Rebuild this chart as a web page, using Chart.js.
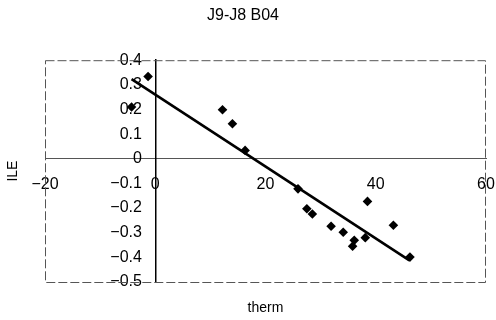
<!DOCTYPE html>
<html>
<head>
<meta charset="utf-8">
<script src="https://cdn.jsdelivr.net/npm/chart.js@4/dist/chart.umd.min.js"></script>
<style>
  html, body { margin: 0; padding: 0; background: #fff; }
  #wrap { width: 496px; height: 320px; }
</style>
</head>
<body>
<div id="wrap"><canvas id="c" width="496" height="320"></canvas></div>
<script>
// ---- data ----
const thermValues = [-4.3, -1.3, 12.2, 14.0, 16.3, 25.9, 27.5, 28.5, 31.9, 34.1, 36.1, 35.8, 38.1, 38.5, 43.2, 46.2];
const ileValues   = [0.21, 0.334, 0.199, 0.142, 0.034, -0.122, -0.203, -0.224, -0.274, -0.298, -0.331, -0.355, -0.32, -0.173, -0.27, -0.399];
const trendTherm  = [-4.3, 46.1];
const trendIle    = [0.323, -0.412];
const xTickValues = [-20, 0, 20, 40, 60];
const xTickLabels = ['\u221220', '0', '20', '40', '60'];
const yTickValues = [-0.5, -0.4, -0.3, -0.2, -0.1, 0, 0.1, 0.2, 0.3, 0.4];
const yTickLabels = ['\u22120.5', '\u22120.4', '\u22120.3', '\u22120.2', '\u22120.1', '0', '0.1', '0.2', '0.3', '0.4'];
const chartTitle = 'J9-J8 B04';
const xTitle = 'therm';
const yTitle = 'ILE';

const points = thermValues.map((x, i) => ({x: x, y: ileValues[i]}));
const trend = trendTherm.map((x, i) => ({x: x, y: trendIle[i]}));

Chart.defaults.font.family = '"Liberation Sans", Arial, sans-serif';
Chart.defaults.color = '#000';

const framePlugin = {
  id: 'frame',
  beforeDatasetsDraw(chart) {
    const a = chart.chartArea, ctx = chart.ctx;
    ctx.save();
    ctx.strokeStyle = '#555';
    ctx.lineWidth = 1;
    ctx.setLineDash([9, 3]);
    ctx.strokeRect(a.left + 0.5, a.top + 0.5, a.right - a.left - 1, a.bottom - a.top);
    ctx.restore();
  }
};

const noPad = s => { s.paddingLeft = 0; s.paddingRight = 0; s.paddingTop = 0; s.paddingBottom = 0; };

new Chart(document.getElementById('c'), {
  type: 'scatter',
  data: {
    datasets: [
      {
        data: points,
        pointStyle: 'rectRot',
        pointRadius: 4.8,
        backgroundColor: '#000',
        borderColor: '#000',
        borderWidth: 0
      },
      {
        data: trend,
        showLine: true,
        borderColor: '#000',
        borderWidth: 2.6,
        pointRadius: 0,
        fill: false
      }
    ]
  },
  options: {
    responsive: false,
    animation: false,
    layout: { padding: { left: 0, right: 10, top: 0, bottom: 0 } },
    plugins: {
      legend: { display: false },
      tooltip: { enabled: false },
      title: {
        display: true,
        text: chartTitle,
        font: { size: 16, weight: 'normal' },
        color: '#000',
        padding: { top: 6, bottom: 35 }
      }
    },
    scales: {
      x: {
        type: 'linear',
        min: -20, max: 60,
        position: { y: 0 },
        afterFit: s => { s.height = 0; noPad(s); },
        afterBuildTicks: s => { s.ticks = xTickValues.map(v => ({value: v})); },
        grid: { display: false, drawTicks: false },
        border: { display: true, color: '#555', width: 1, dash: [9, 3] },
        ticks: {
          autoSkip: false,
          maxRotation: 0,
          padding: 16,
          font: { size: 16 },
          color: '#000',
          callback: (v, i) => xTickLabels[i]
        }
      },
      y: {
        type: 'linear',
        min: -0.5, max: 0.4,
        position: { x: 0 },
        afterFit: s => { s.width = 0; noPad(s); },
        afterBuildTicks: s => { s.ticks = yTickValues.map(v => ({value: v})); },
        grid: { display: false, drawTicks: false },
        border: { display: true, color: '#000', width: 1.5 },
        ticks: {
          autoSkip: false,
          font: { size: 16 },
          color: '#000',
          callback: (v, i) => yTickLabels[i] + '   '
        }
      },
      x2: {
        type: 'linear',
        axis: 'x',
        position: 'bottom',
        afterFit: s => { s.height = 38; noPad(s); },
        grid: { display: false, drawTicks: false },
        border: { display: false },
        ticks: { display: false },
        title: { display: true, text: xTitle, font: { size: 14 }, color: '#000', padding: { top: 0, bottom: 3 } }
      },
      y2: {
        type: 'linear',
        axis: 'y',
        position: 'left',
        afterFit: s => { s.width = 45; noPad(s); },
        grid: { display: false, drawTicks: false },
        border: { display: false },
        ticks: { display: false },
        title: { display: true, text: yTitle, font: { size: 14 }, color: '#000', padding: { top: 5, bottom: 0 } }
      }
    }
  },
  plugins: [framePlugin]
});
</script>
</body>
</html>
